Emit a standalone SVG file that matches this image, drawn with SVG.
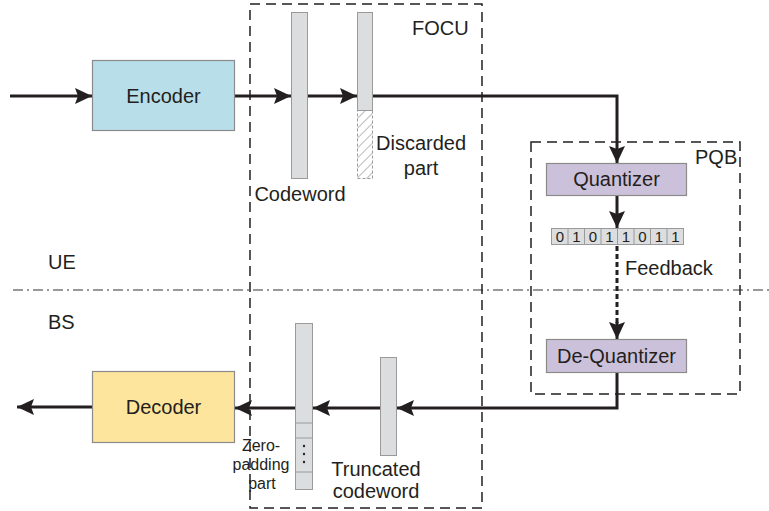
<svg xmlns="http://www.w3.org/2000/svg" width="769" height="511" viewBox="0 0 769 511">
<defs>
<marker id="ah" markerUnits="userSpaceOnUse" markerWidth="19" markerHeight="17" refX="17" refY="8" orient="auto">
<path d="M0,0 L17,8 L0,16 L3,8 z" fill="#231f20"/>
</marker>
<pattern id="hatch" patternUnits="userSpaceOnUse" width="7" height="7" patternTransform="rotate(45)">
<line x1="0" y1="0" x2="0" y2="7" stroke="#9a9a9a" stroke-width="1.4"/>
</pattern>
</defs>
<style>
text{font-family:"Liberation Sans",Arial,sans-serif;fill:#231f20;font-size:20px}
.box{stroke:#8a8a8a;stroke-width:1.2}
.bar{fill:#dcdddf;stroke:#9a9a9a;stroke-width:1}
.dash{fill:none;stroke:#231f20;stroke-width:1.5;stroke-dasharray:10,6}
.con{fill:none;stroke:#231f20;stroke-width:3}
.bit{font-size:15px}
.zp{font-size:16px}
</style>
<rect width="769" height="511" fill="#fff"/>

<g id="ue-bs-line">
<line x1="13" y1="290" x2="769" y2="290" stroke="#333" stroke-width="1.2" stroke-dasharray="10,4,2,4"/>
<text x="48" y="269">UE</text>
<text x="48" y="329">BS</text>
</g>

<g id="focu">
<rect class="dash" x="250" y="4" width="232" height="504"/>
<text x="412" y="35">FOCU</text>
</g>

<g id="pqb">
<rect class="dash" x="531" y="142" width="209" height="252"/>
<text x="695" y="164">PQB</text>
</g>

<g id="connectors">
<line class="con" x1="10" y1="96" x2="92" y2="96" marker-end="url(#ah)"/>
<line class="con" x1="235" y1="96" x2="291" y2="96" marker-end="url(#ah)"/>
<line class="con" x1="308" y1="96" x2="357" y2="96" marker-end="url(#ah)"/>
<polyline class="con" points="373,96 617,96 617,163" marker-end="url(#ah)"/>
<line class="con" x1="617" y1="196" x2="617" y2="228" marker-end="url(#ah)"/>
<line class="con" x1="617" y1="246" x2="617" y2="326" stroke-dasharray="5,3"/>
<line class="con" x1="617" y1="322" x2="617" y2="339" marker-end="url(#ah)"/>
<polyline class="con" points="617,373 617,408 397,408" marker-end="url(#ah)"/>
<line class="con" x1="380" y1="408" x2="313" y2="408" marker-end="url(#ah)"/>
<line class="con" x1="295" y1="408" x2="235" y2="408" marker-end="url(#ah)"/>
<line class="con" x1="93" y1="407" x2="17" y2="407" marker-end="url(#ah)"/>
</g>

<g id="encoder">
<rect class="box" x="92.5" y="60.5" width="142" height="70" fill="#b8deea"/>
<text x="163.5" y="103" text-anchor="middle">Encoder</text>
</g>

<g id="decoder">
<rect class="box" x="92.5" y="371.5" width="142" height="71" fill="#fde59d"/>
<text x="163.5" y="414" text-anchor="middle">Decoder</text>
</g>

<g id="codeword">
<rect class="bar" x="291.5" y="12.5" width="16" height="166"/>
<text x="300" y="201" text-anchor="middle">Codeword</text>
</g>

<g id="discarded">
<rect class="bar" x="357.5" y="12.5" width="15" height="98"/>
<rect x="357.5" y="110.5" width="15" height="68" fill="url(#hatch)" stroke="#9a9a9a" stroke-width="1" stroke-dasharray="3,2"/>
<text x="376" y="150">Discarded</text>
<text x="421" y="175" text-anchor="middle">part</text>
</g>

<g id="quantizer">
<rect class="box" x="546.5" y="163.5" width="140" height="32" fill="#ccc1db"/>
<text x="616.5" y="186" text-anchor="middle">Quantizer</text>
</g>

<g id="bits">
<rect x="551.5" y="228.5" width="132" height="16" fill="#dcdddf" stroke="#9a9a9a" stroke-width="1"/>
<g stroke="#9a9a9a" stroke-width="1">
<line x1="568" y1="228.5" x2="568" y2="244.5"/>
<line x1="584.5" y1="228.5" x2="584.5" y2="244.5"/>
<line x1="601" y1="228.5" x2="601" y2="244.5"/>
<line x1="617.5" y1="228.5" x2="617.5" y2="244.5"/>
<line x1="634" y1="228.5" x2="634" y2="244.5"/>
<line x1="650.5" y1="228.5" x2="650.5" y2="244.5"/>
<line x1="667" y1="228.5" x2="667" y2="244.5"/>
</g>
<g text-anchor="middle">
<text class="bit" x="559.8" y="242">0</text>
<text class="bit" x="576.3" y="242">1</text>
<text class="bit" x="592.8" y="242">0</text>
<text class="bit" x="609.3" y="242">1</text>
<text class="bit" x="625.8" y="242">1</text>
<text class="bit" x="642.3" y="242">0</text>
<text class="bit" x="658.8" y="242">1</text>
<text class="bit" x="675.3" y="242">1</text>
</g>
<text x="625" y="275">Feedback</text>
</g>

<g id="dequantizer">
<rect class="box" x="546.5" y="339.5" width="140" height="33" fill="#ccc1db"/>
<text x="616.5" y="363" text-anchor="middle">De-Quantizer</text>
</g>

<g id="truncated">
<rect class="bar" x="380.5" y="357.5" width="16" height="98"/>
<text x="376" y="476" text-anchor="middle">Truncated</text>
<text x="376" y="498" text-anchor="middle">codeword</text>
</g>

<g id="zeropadding">
<rect class="bar" x="295.5" y="323.5" width="17" height="166"/>
<line x1="295.5" y1="423" x2="312.5" y2="423" stroke="#9a9a9a"/>
<line x1="295.5" y1="438" x2="312.5" y2="438" stroke="#9a9a9a"/>
<line x1="295.5" y1="472" x2="312.5" y2="472" stroke="#9a9a9a"/>
<circle cx="304" cy="446" r="1.2" fill="#231f20"/>
<circle cx="304" cy="454" r="1.2" fill="#231f20"/>
<circle cx="304" cy="462" r="1.2" fill="#231f20"/>
<text class="zp" x="261" y="451" text-anchor="middle">Zero-</text>
<text class="zp" x="261" y="470" text-anchor="middle">padding</text>
<text class="zp" x="262" y="489" text-anchor="middle">part</text>
</g>
</svg>
